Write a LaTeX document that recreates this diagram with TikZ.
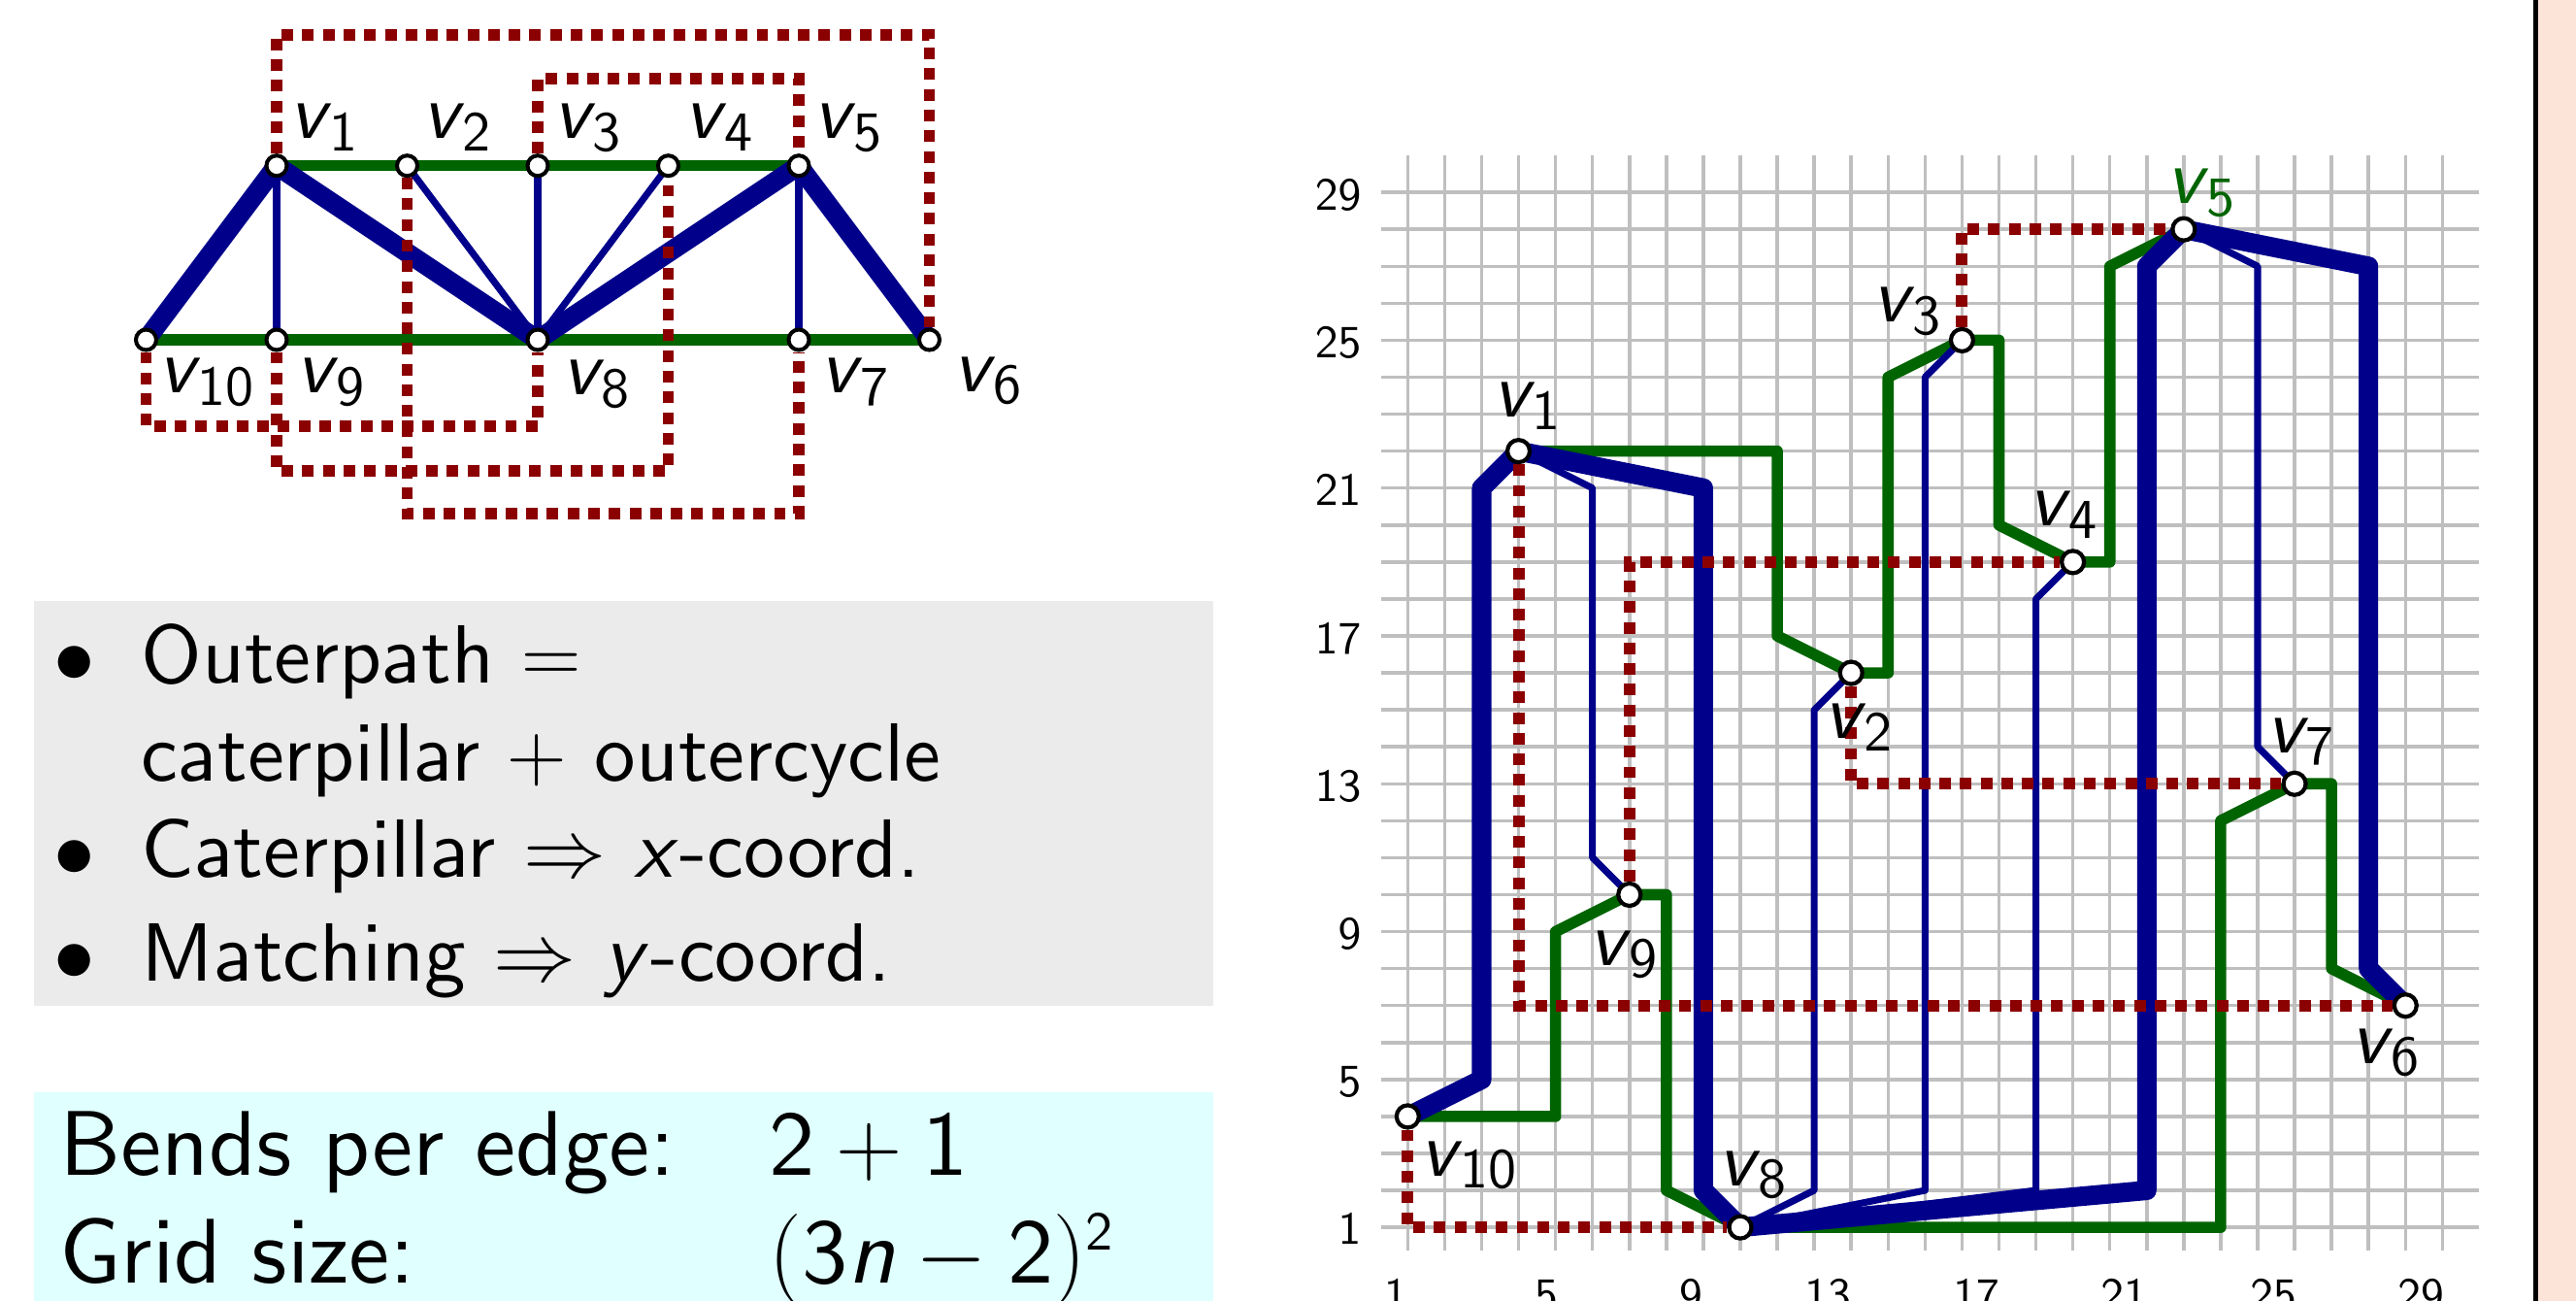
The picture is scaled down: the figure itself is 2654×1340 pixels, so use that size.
\RequirePackage{fix-cm}
\documentclass[tikz,border=0pt]{standalone}
\usepackage[OT1]{fontenc}
\renewcommand{\sfdefault}{cmss}
\renewcommand{\rmdefault}{cmr}
\DeclareFontFamily{OT1}{cmss}{}
\DeclareFontShape{OT1}{cmss}{m}{n}{<-> cmss10}{}
\DeclareFontShape{OT1}{cmss}{m}{it}{<-> cmssi10}{}
\DeclareFontShape{OT1}{cmss}{m}{sl}{<-> cmssi10}{}
\definecolor{cgreen}{RGB}{0,100,0}
\definecolor{cblue}{RGB}{0,0,139}
\definecolor{cred}{RGB}{139,0,0}
\definecolor{cgrid}{RGB}{191,191,191}
\definecolor{cgraybox}{RGB}{235,235,235}
\definecolor{ccyanbox}{RGB}{224,255,255}
\definecolor{cpeach}{RGB}{253,228,216}
\pgfdeclarelayer{gridlayer}
\pgfdeclarelayer{edgelayer}
\pgfdeclarelayer{dotlayer}
\pgfsetlayers{gridlayer,edgelayer,dotlayer,main}
\newcommand{\vl}[1]{\textit{v}\kern-1.5pt$_{\hbox{\fontsize{16.5}{17}\selectfont #1}}$}
\tikzset{
  lvertex/.style={circle, draw=black, fill=white, line width=1.15pt, minimum size=0.21cm, inner sep=0pt},
  rvertex/.style={circle, draw=black, fill=white, line width=1.2pt, minimum size=0.23cm, inner sep=0pt},
  outeredge/.style={cgreen, line width=3.3pt, line join=round},
  thickedge/.style={cblue, line width=5.7pt, line join=round},
  thinedge/.style={cblue, line width=2pt, line join=round},
  matchedge/.style={cred, line width=3.4pt, dash pattern=on 3.4pt off 2.65pt},
  gridline/.style={cgrid, line width=1pt},
  vlabel/.style={font=\fontsize{22.8}{27}\sffamily, inner sep=0pt, anchor=base west},
  axlab/.style={font=\fontsize{13.5}{16}\sffamily, inner sep=0pt},
  btext/.style={font=\fontsize{24.2}{29}\sffamily, inner sep=0pt, anchor=base west},
  bmark/.style={font=\fontsize{24.2}{29}\sffamily, inner sep=0pt, anchor=base},
  ctext/.style={font=\fontsize{26.9}{32}\sffamily, inner sep=0pt, anchor=base west}
}
\begin{document}
\begin{tikzpicture}[x=0.01cm,y=-0.01cm]
\useasboundingbox (0,0) rectangle (2654,1340);
\begin{pgfonlayer}{gridlayer}
\fill[white] (0,0) rectangle (2654,1340);
\end{pgfonlayer}

% ---------- right strip ----------
\fill[cpeach] (2615,0) rectangle (2654,1340);
\draw[black, line width=1.42pt] (2612.5,0) -- (2612.5,1340);

% ---------- text boxes ----------
\fill[cgraybox] (34.8,618.8) rectangle (1250,1035.6);
\fill[ccyanbox] (34.8,1125) rectangle (1250,1340);
\node[bmark] (b1) at (76.7,704) {$\bullet$};
\node[bmark] (b2) at (76.7,903) {$\bullet$};
\node[bmark] (b3) at (76.7,1010) {$\bullet$};
\node[btext] (t1) at (145,704) {Outerpath $=$};
\node[btext] (t2) at (145,805) {caterpillar $+$ outercycle};
\node[btext] (t3) at (145,903) {Caterpillar $\Rightarrow$ \textit{x}-coord.};
\node[btext] (t4) at (145,1010) {Matching $\Rightarrow$ \textit{y}-coord.};
\node[ctext] (c1) at (61,1210) {Bends per edge:};
\node[ctext] (c2) at (792,1210) {$\textsf{2}+\textsf{1}$};
\node[ctext] (c3) at (61,1321.7) {Grid size:};
\node[ctext] (c4) at (792,1321.7) {$(\textsf{3}\textit{n}-\textsf{2})^{\hbox{\fontsize{16}{16}\selectfont 2}}$};

% ---------- left graph ----------
\node[lvertex] (l1) at (285,170.7) {};
\node[lvertex] (l2) at (419.5,170.7) {};
\node[lvertex] (l3) at (554,170.7) {};
\node[lvertex] (l4) at (688.5,170.7) {};
\node[lvertex] (l5) at (823,170.7) {};
\node[lvertex] (l10) at (150.5,350) {};
\node[lvertex] (l9) at (285,350) {};
\node[lvertex] (l8) at (554,350) {};
\node[lvertex] (l7) at (823,350) {};
\node[lvertex] (l6) at (957.5,350) {};
\begin{pgfonlayer}{edgelayer}
\draw[outeredge] (l1.center) -- (l2.center);
\draw[outeredge] (l2.center) -- (l3.center);
\draw[outeredge] (l3.center) -- (l4.center);
\draw[outeredge] (l4.center) -- (l5.center);
\draw[outeredge] (l10.center) -- (l9.center);
\draw[outeredge] (l9.center) -- (l8.center);
\draw[outeredge] (l8.center) -- (l7.center);
\draw[outeredge] (l7.center) -- (l6.center);
\draw[thickedge] (l10.center) -- (l1.center);
\draw[thickedge] (l1.center) -- (l8.center);
\draw[thickedge] (l8.center) -- (l5.center);
\draw[thickedge] (l5.center) -- (l6.center);
\draw[thinedge] (l1.center) -- (l9.center);
\draw[thinedge] (l2.center) -- (l8.center);
\draw[thinedge] (l3.center) -- (l8.center);
\draw[thinedge] (l4.center) -- (l8.center);
\draw[thinedge] (l5.center) -- (l7.center);
\end{pgfonlayer}
\begin{pgfonlayer}{dotlayer}
\draw[matchedge] (l1) |- (957.5,35.7) -- (l6);
\draw[matchedge] (l3) |- (823,81.4) -- (l5);
\draw[matchedge] (l10) |- (554,439.3) -- (l8);
\draw[matchedge] (l9) |- (688.5,485) -- (l4);
\draw[matchedge] (l2) |- (823,528.6) -- (l7);
\end{pgfonlayer}
\node[vlabel] (ll1) at (298,143) {\vl{1}};
\node[vlabel] (ll2) at (435,143) {\vl{2}};
\node[vlabel] (ll3) at (569.6,143) {\vl{3}};
\node[vlabel] (ll4) at (705,143) {\vl{4}};
\node[vlabel] (ll5) at (838,143) {\vl{5}};
\node[vlabel] (ll10) at (162.7,405) {\vl{10}};
\node[vlabel] (ll9) at (305,405) {\vl{9}};
\node[vlabel] (ll8) at (578.7,407) {\vl{8}};
\node[vlabel] (ll7) at (845,405) {\vl{7}};
\node[vlabel] (ll6) at (982,403.6) {\vl{6}};

% ---------- right drawing ----------
\begin{scope}[shift={(14.1145cm,-13.0145cm)},x=0.3805cm,y=0.3805cm]
\begin{pgfonlayer}{gridlayer}
\foreach \i in {1,...,29} \draw[gridline] (\i,0.38) -- (\i,30);
\foreach \j in {1,...,29} \draw[gridline] (0.27,\j) -- (30,\j);
\end{pgfonlayer}
\node[rvertex] (r1) at (4,22) {};
\node[rvertex] (r2) at (13,16) {};
\node[rvertex] (r3) at (16,25) {};
\node[rvertex] (r4) at (19,19) {};
\node[rvertex] (r5) at (22,28) {};
\node[rvertex] (r6) at (28,7) {};
\node[rvertex] (r7) at (25,13) {};
\node[rvertex] (r8) at (10,1) {};
\node[rvertex] (r9) at (7,10) {};
\node[rvertex] (r10) at (1,4) {};
\begin{pgfonlayer}{edgelayer}
\draw[outeredge] (r1.center) -- (11,22) -- (11,17) -- (r2.center);
\draw[outeredge] (r2.center) -- (14,16) -- (14,24) -- (r3.center);
\draw[outeredge] (r3.center) -- (17,25) -- (17,20) -- (r4.center);
\draw[outeredge] (r4.center) -- (20,19) -- (20,27) -- (r5.center);
\draw[outeredge] (r10.center) -- (5,4) -- (5,9) -- (r9.center);
\draw[outeredge] (r9.center) -- (8,10) -- (8,2) -- (r8.center);
\draw[outeredge] (r8.center) -- (23,1) -- (23,12) -- (r7.center);
\draw[outeredge] (r7.center) -- (26,13) -- (26,8) -- (r6.center);
\draw[thickedge] (r10.center) -- (3,5) -- (3,21) -- (r1.center);
\draw[thickedge] (r1.center) -- (9,21) -- (9,2) -- (r8.center);
\draw[thickedge] (r5.center) -- (21,27) -- (21,2) -- (r8.center);
\draw[thickedge] (r5.center) -- (27,27) -- (27,8) -- (r6.center);
\draw[thinedge] (r1.center) -- (6,21) -- (6,11) -- (r9.center);
\draw[thinedge] (r2.center) -- (12,15) -- (12,2) -- (r8.center);
\draw[thinedge] (r3.center) -- (15,24) -- (15,2) -- (r8.center);
\draw[thinedge] (r4.center) -- (18,18) -- (18,2) -- (r8.center);
\draw[thinedge] (r5.center) -- (24,27) -- (24,14) -- (r7.center);
\end{pgfonlayer}
\begin{pgfonlayer}{dotlayer}
\draw[matchedge] (r1) |- (r6);
\draw[matchedge] (r3) |- (r5);
\draw[matchedge] (r10) |- (r8);
\draw[matchedge] (r9) |- (r4);
\draw[matchedge] (r2) |- (r7);
\end{pgfonlayer}
\end{scope}

% axis labels
\node[axlab, anchor=east] (y29) at (1403,201) {29};
\node[axlab, anchor=east] (y25) at (1403,353.2) {25};
\node[axlab, anchor=east] (y21) at (1403,505.4) {21};
\node[axlab, anchor=east] (y17) at (1403,657.6) {17};
\node[axlab, anchor=east] (y13) at (1403,809.8) {13};
\node[axlab, anchor=east] (y9) at (1403,962) {9};
\node[axlab, anchor=east] (y5) at (1403,1114.2) {5};
\node[axlab, anchor=east] (y1) at (1403,1266.4) {1};
\node[axlab, anchor=base] (x1) at (1438,1349) {1};
\node[axlab, anchor=base] (x5) at (1593,1349) {5};
\node[axlab, anchor=base] (x9) at (1742,1349) {9};
\node[axlab, anchor=base] (x13) at (1883,1349) {13};
\node[axlab, anchor=base] (x17) at (2036,1349) {17};
\node[axlab, anchor=base] (x21) at (2188,1349) {21};
\node[axlab, anchor=base] (x25) at (2342,1349) {25};
\node[axlab, anchor=base] (x29) at (2494,1349) {29};

% right vertex labels
\node[vlabel] (rl1) at (1537.5,430) {\vl{1}};
\node[vlabel] (rl2) at (1879,761) {\vl{2}};
\node[vlabel] (rl3) at (1929,332) {\vl{3}};
\node[vlabel] (rl4) at (2090,542) {\vl{4}};
\node[vlabel, text=cgreen] (rl5) at (2232,210) {\vl{5}};
\node[vlabel] (rl6) at (2422,1095) {\vl{6}};
\node[vlabel] (rl7) at (2334.5,775.5) {\vl{7}};
\node[vlabel] (rl8) at (1770,1221.7) {\vl{8}};
\node[vlabel] (rl9) at (1637,994) {\vl{9}};
\node[vlabel] (rl10) at (1463,1211.7) {\vl{10}};
\end{tikzpicture}
\end{document}
